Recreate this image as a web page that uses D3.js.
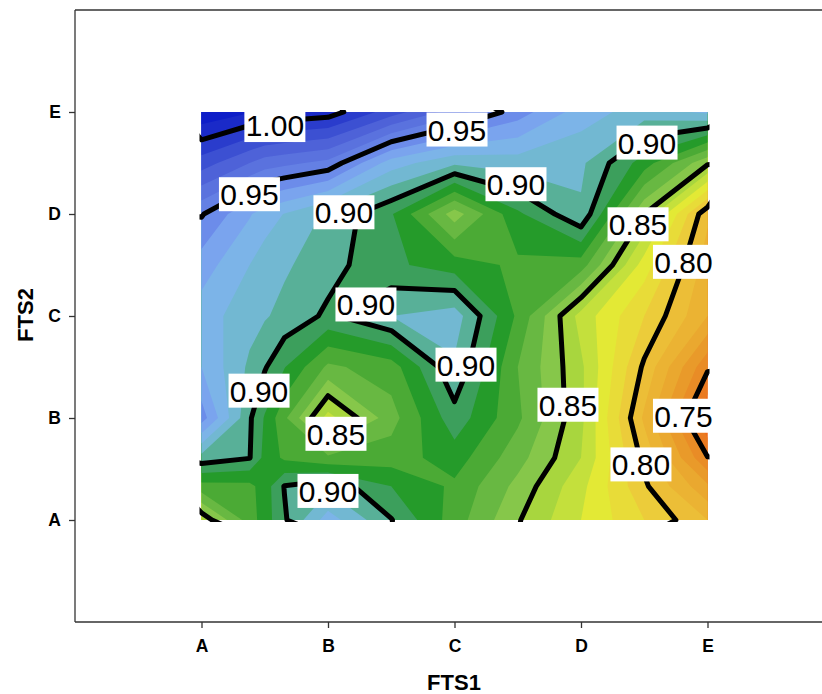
<!DOCTYPE html>
<html>
<head>
<meta charset="utf-8">
<script src="https://cdn.jsdelivr.net/npm/d3@7"></script>
<style>
html,body{margin:0;padding:0;background:#fff;overflow:hidden}
svg{display:block}
text{font-family:"Liberation Sans",Arial,sans-serif}
</style>
</head>
<body>
<svg id="c" width="822" height="694"></svg>
<script>
const categories = ["A","B","C","D","E"];
const xTitle = "FTS1";
const yTitle = "FTS2";
// sample positions in category units (0 = A ... 4 = E)
const xSamples = [0,0.38,0.5,0.656,1,1.5,2,2.5,3,3.5,4];
const ySamples = [4,3.5,3,2.5,2,1.5,1,0.61,0.33,0];
// one list per FTS2 sample, top of the chart first
const rowA = [1.018,1.0108,1.0085,1.0074,1.005,0.985,0.965,0.945,0.925,0.915,0.922];
const rowB = [0.985,0.970,0.965,0.9625,0.957,0.925,0.912,0.915,0.912,0.885,0.852];
const rowC = [0.951,0.931,0.925,0.9196,0.908,0.891,0.855,0.888,0.9085,0.85,0.792];
const rowD = [0.935,0.920,0.915,0.9115,0.904,0.892,0.885,0.878,0.875,0.825,0.785];
const rowE = [0.925,0.914,0.911,0.907,0.898,0.91,0.915,0.878,0.836,0.81,0.78];
const rowF = [0.93,0.908,0.901,0.8905,0.868,0.875,0.9085,0.87,0.842,0.798,0.752];
const rowG = [0.945,0.9015,0.889,0.872,0.836,0.866,0.896,0.872,0.8425,0.788,0.73];
const rowH = [0.906,0.9005,0.887,0.878,0.872,0.875,0.885,0.864,0.84,0.797,0.7505];
const rowI = [0.876,0.877,0.885,0.9005,0.907,0.89,0.878,0.857,0.833,0.802,0.772];
const rowJ = [0.843,0.875,0.885,0.8985,0.925,0.9005,0.875,0.851,0.83,0.81,0.79];
const bandFloors = [0.72,0.73,0.74,0.75,0.76,0.77,0.78,0.79,0.80,0.81,0.82,0.83,0.84,0.85,0.86,0.87,0.88,0.89,0.90,0.91,0.92,0.93,0.94,0.95,0.96,0.97,0.98,0.99,1.00,1.01];
const bandColors = ["#ee5f17","#ee6a1a","#ea7a20","#e98c26","#e99a2a","#eaa82f","#ebb333","#ecbe37","#eccc3a","#e8dc38","#e3e935","#c4e03c","#a8d63e","#86c74a","#68b842","#4baa35","#259b2a","#3c9f5c","#58b098","#72b8d2","#7cb4e8","#7aa4ee","#6c8cea","#6480e4","#5a72de","#4e62d8","#3c50d2","#2a3ccc","#1a2ac8","#0e1ec8"];
const lineLevels = [0.75,0.80,0.85,0.90,0.95,1.00];
const labelText = ["1.00","0.95","0.95","0.90","0.90","0.90","0.90","0.85","0.80","0.90","0.85","0.90","0.90","0.85","0.75","0.80"];
const labelX = [0.58,0.379,2.02,1.126,1.30,2.486,3.522,3.451,3.81,0.455,1.063,1.0,2.091,2.897,3.81,3.474];
const labelY = [3.872,3.194,3.828,3.017,2.113,3.292,3.70,2.899,2.531,1.268,0.845,0.285,1.523,1.13,1.022,0.545];

const svg = d3.select("#c");
const x = d3.scaleLinear().domain([-1,5]).range([75,834]);
const y = d3.scaleLinear().domain([-1,5]).range([622,10]);
const rows = [rowA,rowB,rowC,rowD,rowE,rowF,rowG,rowH,rowI,rowJ];
const values = rows.flat();
const nx = xSamples.length, ny = ySamples.length;
// d3.contours places sample i at coordinate i + 0.5
const gx = d3.scaleLinear().domain(xSamples.map((d,i)=>i+0.5)).range(xSamples.map(d=>x(d)));
const gy = d3.scaleLinear().domain(ySamples.map((d,i)=>i+0.5)).range(ySamples.map(d=>y(d)));
const path = d3.geoPath(d3.geoTransform({point(a,b){this.stream.point(gx(a),gy(b));}}));
const gen = d3.contours().size([nx,ny]);

const defs = svg.append("defs");
defs.append("clipPath").attr("id","fillClip").append("rect")
  .attr("x",x(0)).attr("y",y(4)).attr("width",x(4)-x(0)).attr("height",y(0)-y(4));
defs.append("clipPath").attr("id","lineClip").append("rect")
  .attr("x",x(0)-2).attr("y",y(4)-2).attr("width",x(4)-x(0)+4).attr("height",y(0)-y(4)+4);

const fills = svg.append("g").attr("clip-path","url(#fillClip)");
fills.selectAll("path").data(bandFloors).join("path")
  .attr("d",t=>path(gen.contour(values,t)))
  .attr("fill",(t,i)=>bandColors[i]);

svg.append("g").attr("clip-path","url(#lineClip)")
  .selectAll("path").data(lineLevels).join("path")
  .attr("d",t=>path(gen.contour(values,t)))
  .attr("fill","none").attr("stroke","#000").attr("stroke-width",5)
  .attr("stroke-linejoin","round").attr("stroke-linecap","round");

const lab = svg.append("g").selectAll("g").data(labelText).join("g")
  .attr("transform",(d,i)=>`translate(${x(labelX[i])},${y(labelY[i])})`);
lab.append("rect").attr("x",-30.5).attr("y",-17).attr("width",61).attr("height",34).attr("fill","#fff");
lab.append("text").attr("text-anchor","middle").attr("y",11).attr("font-size",30).attr("fill","#000").text(d=>d);

const frame = svg.append("g").attr("fill","none").attr("stroke","#333").attr("stroke-width",1.3);
frame.append("line").attr("x1",x(-1)).attr("x2",x(-1)).attr("y1",y(5)).attr("y2",y(-1));
frame.append("line").attr("x1",x(-1)).attr("x2",x(5)).attr("y1",y(-1)).attr("y2",y(-1));
frame.append("line").attr("x1",x(-1)).attr("x2",x(5)).attr("y1",y(5)).attr("y2",y(5));

const fmt = i=>categories[i];
const ax = svg.append("g").attr("transform",`translate(0,${y(-1)})`)
  .call(d3.axisBottom(x).tickValues(d3.range(categories.length)).tickFormat(fmt).tickSize(6).tickPadding(12));
const ay = svg.append("g").attr("transform",`translate(${x(-1)},0)`)
  .call(d3.axisLeft(y).tickValues(d3.range(categories.length)).tickFormat(fmt).tickSize(6).tickPadding(8));
[ax,ay].forEach(a=>{
  a.select(".domain").remove();
  a.selectAll(".tick line").attr("stroke","#333").attr("stroke-width",1.3);
  a.selectAll(".tick text").attr("font-size",17.5).attr("font-weight","bold").attr("fill","#000")
    .style("font-family",'"Liberation Sans",Arial,sans-serif');
});

svg.append("text").attr("x",454).attr("y",690).attr("text-anchor","middle")
  .attr("font-size",22).attr("font-weight","bold").text(xTitle);
svg.append("text").attr("transform","translate(33,315) rotate(-90)").attr("text-anchor","middle")
  .attr("font-size",22).attr("font-weight","bold").text(yTitle);
</script>
</body>
</html>
